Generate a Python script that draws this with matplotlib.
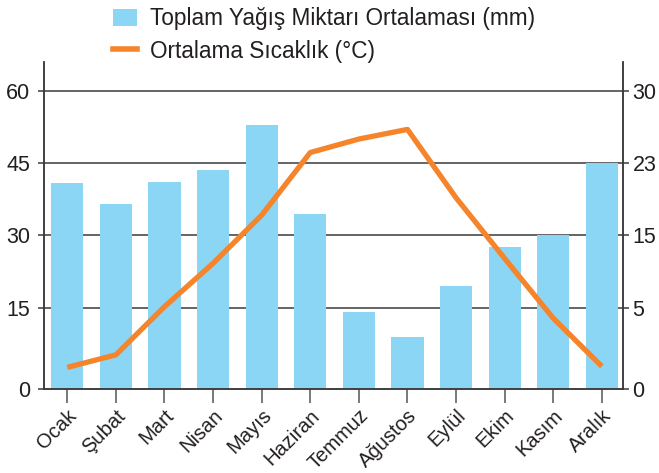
import numpy as np
import matplotlib.pyplot as plt
from matplotlib.patches import Patch
from matplotlib.lines import Line2D

plt.rcParams['font.family'] = ['Liberation Sans', 'DejaVu Sans']

# Veriler
aylar = ["Ocak", "Şubat", "Mart", "Nisan", "Mayıs", "Haziran",
         "Temmuz", "Ağustos", "Eylül", "Ekim", "Kasım", "Aralık"]
yagis = [40.9, 36.5, 41.1, 43.6, 53.0, 34.5, 14.1, 8.9, 19.5, 27.6, 30.0, 45.1]
sicaklik = [1.3, 2.6, 7.6, 12.1, 17.1, 23.6, 25.0, 26.0, 18.9, 12.6, 6.4, 1.4]

sol_etiket = ["0", "15", "30", "45", "60"]
sag_etiket = ["0", "5", "15", "23", "30"]

mavi = "#8bd5f5"
turuncu = "#f5842a"
koyu = "#231f20"

ymin, ymax = -1.95, 66.0

fig = plt.figure(figsize=(6.59, 4.73), dpi=100)
ax = fig.add_axes([0.0672, 0.177, 0.8778, 0.692])

x = np.arange(len(aylar))
taban = np.array(yagis) - ymin
ax.bar(x, taban, bottom=ymin, width=0.66, color=mavi, zorder=2)

ax.set_xlim(-0.473, 11.43)
ax.set_ylim(ymin, ymax)
ax.set_yticks([ymin, 15, 30, 45, 60])
ax.set_yticklabels(sol_etiket)
for g in [15, 30, 45, 60]:
    ax.axhline(g, color="#3a3a3a", lw=1.1, zorder=1)

ax.set_xticks(x)
ax.set_xticklabels(aylar, rotation=45, ha="right", va="top", rotation_mode="anchor")

ax2 = ax.twinx()
ax2.set_ylim(ymin / 2, ymax / 2)
ax2.set_yticks([ymin / 2, 7.5, 15, 22.5, 30])
ax2.set_yticklabels(sag_etiket)
ax2.plot(x, sicaklik, color=turuncu, lw=3.8, solid_capstyle="butt", zorder=3)

for a in (ax, ax2):
    a.spines["top"].set_visible(False)
    for s in ("left", "right", "bottom"):
        a.spines[s].set_color("#3a3a3a")
        a.spines[s].set_linewidth(1.1)
    a.tick_params(axis="y", labelsize=15.5, colors="#3a3a3a", labelcolor=koyu,
                  length=4, width=1.1)
ax.tick_params(axis="y", pad=6)
ax2.tick_params(axis="y", pad=3)
ax.tick_params(axis="x", labelsize=14.5, colors="#555555", labelcolor=koyu,
               length=10, width=1.1, pad=2)

tutacak = [Patch(facecolor=mavi, edgecolor="none"),
           Line2D([0], [0], color=turuncu, lw=4)]
fig.legend(tutacak, ["Toplam Yağış Miktarı Ortalaması (mm)", "Ortalama Sıcaklık (°C)"],
           loc="upper left", bbox_to_anchor=(0.1715, 0.985), frameon=False,
           borderpad=0, borderaxespad=0,
           fontsize=16.3, handlelength=1.05, handleheight=0.8,
           handletextpad=0.6, labelspacing=0.42, labelcolor=koyu)

fig.savefig("out.png", dpi=100)
